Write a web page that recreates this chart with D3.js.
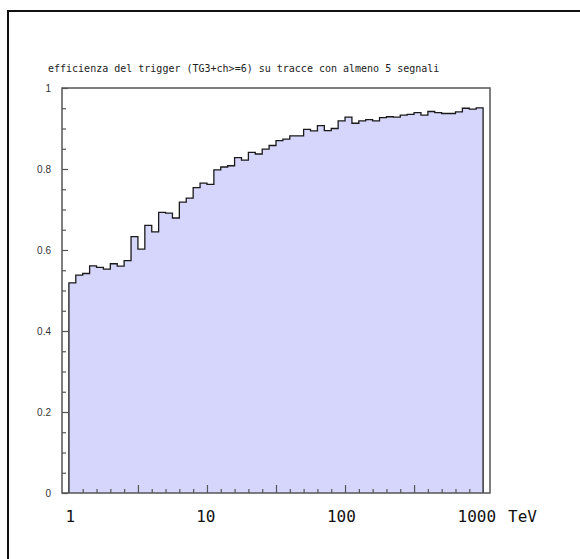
<!DOCTYPE html>
<html>
<head>
<meta charset="utf-8">
<script src="https://cdn.jsdelivr.net/npm/d3@7"></script>
<style>
  html, body { margin: 0; padding: 0; background: #fff; }
  svg { display: block; }
</style>
</head>
<body>
<svg id="chart" width="580" height="559"></svg>
<script>
// Trigger efficiency per energy bin (log-spaced bins, 20 per decade, 1 TeV .. 1000 TeV)
const title = "efficienza del trigger (TG3+ch>=6) su tracce con almeno 5 segnali";
const binsPerDecade = 20;
const firstEdgeTeV = 1;
const efficiency = [
  0.519, 0.538, 0.542, 0.561, 0.557, 0.553, 0.566, 0.560, 0.574, 0.633,
  0.602, 0.661, 0.645, 0.693, 0.691, 0.679, 0.718, 0.728, 0.754, 0.765,
  0.762, 0.798, 0.805, 0.808, 0.828, 0.822, 0.841, 0.837, 0.849, 0.858,
  0.870, 0.874, 0.882, 0.882, 0.898, 0.894, 0.907, 0.895, 0.900, 0.919,
  0.928, 0.913, 0.919, 0.922, 0.919, 0.927, 0.929, 0.928, 0.933, 0.935,
  0.939, 0.933, 0.942, 0.939, 0.937, 0.937, 0.941, 0.950, 0.948, 0.951
];
const xTickLabels = [1, 10, 100, 1000];
const xUnit = "TeV";
const yTickLabels = [0, 0.2, 0.4, 0.6, 0.8, 1];

const svg = d3.select("#chart");

// outer frame (top and left edges)
svg.append("line").attr("x1", 7).attr("x2", 580).attr("y1", 11).attr("y2", 11)
  .attr("stroke", "#111").attr("stroke-width", 2);
svg.append("line").attr("x1", 8).attr("x2", 8).attr("y1", 10).attr("y2", 559)
  .attr("stroke", "#111").attr("stroke-width", 2);

const plot = { left: 62, right: 490, top: 88, bottom: 493 };
const pad = 1 / binsPerDecade; // one bin of empty space on each side

const x = d3.scaleLog()
  .domain([firstEdgeTeV * Math.pow(10, -pad), firstEdgeTeV * Math.pow(10, efficiency.length / binsPerDecade + pad)])
  .range([plot.left, plot.right]);
const y = d3.scaleLinear().domain([0, 1]).range([plot.bottom, plot.top]);

// bin edges
const edges = d3.range(efficiency.length + 1).map(i => firstEdgeTeV * Math.pow(10, i / binsPerDecade));

// step outline of the histogram
const pts = [[edges[0], 0]];
efficiency.forEach((v, i) => { pts.push([edges[i], v]); pts.push([edges[i + 1], v]); });
pts.push([edges[edges.length - 1], 0]);

const line = d3.line().x(d => x(d[0])).y(d => y(d[1]));

svg.append("path")
  .attr("d", line(pts) + "Z")
  .attr("fill", "#d6d6fc")
  .attr("stroke", "none");

svg.append("path")
  .attr("d", line(pts))
  .attr("fill", "none")
  .attr("stroke", "#1a1a1a")
  .attr("stroke-width", 1.3);

// plot frame
svg.append("rect")
  .attr("x", plot.left).attr("y", plot.top)
  .attr("width", plot.right - plot.left).attr("height", plot.bottom - plot.top)
  .attr("fill", "none").attr("stroke", "#555").attr("stroke-width", 1.5);

// y axis: ticks inside, every 0.05
const yAxis = d3.axisRight(y)
  .tickValues(d3.range(0, 21).map(i => i / 20))
  .tickSize(5)
  .tickFormat("");
const gy = svg.append("g").attr("transform", `translate(${plot.left},0)`).call(yAxis);
gy.select(".domain").remove();
gy.selectAll(".tick line").attr("stroke", "#555").attr("stroke-width", 1.2)
  .attr("x2", d => (Math.round(d * 20) % 4 === 0 ? 6 : 4));

svg.append("g").selectAll("text").data(yTickLabels).join("text")
  .attr("x", plot.left - 11)
  .attr("y", d => y(d))
  .attr("dy", "0.35em")
  .attr("text-anchor", "end")
  .attr("font-family", "'Liberation Sans', Arial, sans-serif")
  .attr("font-size", 10)
  .attr("fill", "#333")
  .text(d => d3.format("")(d));

// x axis: ticks pointing up, every 0.1 decade, taller every half decade
const logTicks = d3.range(1, 30).map(i => firstEdgeTeV * Math.pow(10, i / 10));
const xAxis = d3.axisTop(x).tickValues(logTicks).tickSize(4).tickFormat("");
const gx = svg.append("g").attr("transform", `translate(0,${plot.bottom})`).call(xAxis);
gx.select(".domain").remove();
gx.selectAll(".tick line").attr("stroke", "#555").attr("stroke-width", 1.2)
  .attr("y2", (d, i) => ((i + 1) % 5 === 0 ? -8 : -4));

svg.append("g").selectAll("text").data(xTickLabels).join("text")
  .attr("x", d => x(d) + 1.5 - Math.log10(d) * 2.6)
  .attr("y", 522)
  .attr("text-anchor", "middle")
  .attr("font-family", "'DejaVu Sans Mono', monospace")
  .attr("font-size", 16)
  .attr("fill", "#111")
  .text(d => d);

svg.append("text")
  .attr("x", x(xTickLabels[xTickLabels.length - 1]) + 25)
  .attr("y", 522)
  .attr("font-family", "'DejaVu Sans Mono', monospace")
  .attr("font-size", 16)
  .attr("fill", "#111")
  .text(xUnit);

// title
svg.append("text")
  .attr("x", 48)
  .attr("y", 72)
  .attr("font-family", "'DejaVu Sans Mono', monospace")
  .attr("font-size", 10)
  .attr("fill", "#222")
  .text(title);
</script>
</body>
</html>
